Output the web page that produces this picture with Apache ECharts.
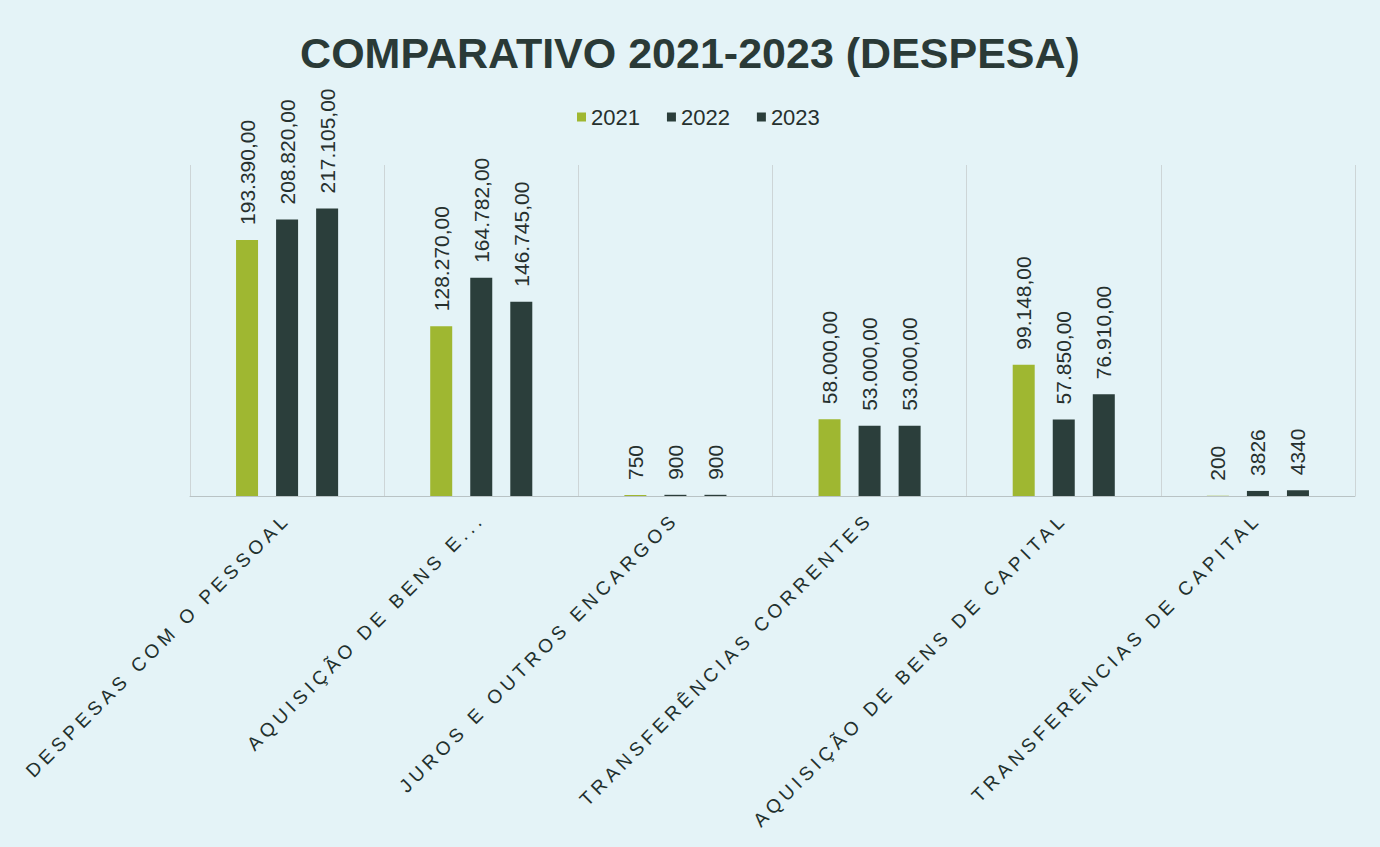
<!DOCTYPE html>
<html>
<head>
<meta charset="utf-8">
<script src="https://cdn.jsdelivr.net/npm/echarts@6/dist/echarts.min.js"></script>
<style>
  html, body { margin: 0; padding: 0; background: #e4f3f7; }
  #chart { width: 1380px; height: 847px; }
  text[style*="xspaced"] { letter-spacing: 4.5px; }
</style>
</head>
<body>
<div id="chart"></div>
<script>
const titleText = 'COMPARATIVO 2021-2023 (DESPESA)';
const categories = [
  'DESPESAS COM O PESSOAL',
  'AQUISIÇÃO DE BENS E...',
  'JUROS E OUTROS ENCARGOS',
  'TRANSFERÊNCIAS CORRENTES',
  'AQUISIÇÃO DE BENS DE CAPITAL',
  'TRANSFERÊNCIAS DE CAPITAL'
];
const seriesNames = ['2021', '2022', '2023'];
const values2021 = [193390, 128270, 750, 58000, 99148, 200];
const values2022 = [208820, 164782, 900, 53000, 57850, 3826];
const values2023 = [217105, 146745, 900, 53000, 76910, 4340];
const seriesColors = ['#9fb731', '#2b3e3b', '#2b3e3b'];

function fmtValue(v) {
  if (v < 5000) return String(v);
  const s = String(Math.round(v));
  let out = '';
  for (let i = 0; i < s.length; i++) {
    if (i > 0 && (s.length - i) % 3 === 0) out += '.';
    out += s[i];
  }
  return out + ',00';
}

const chart = echarts.init(document.getElementById('chart'), null, { renderer: 'svg', width: 1380, height: 847 });
const allValues = [values2021, values2022, values2023];

const option = {
  backgroundColor: '#e4f3f7',
  animation: false,
  title: {
    text: titleText,
    left: 'center',
    top: 26,
    textStyle: {
      fontFamily: 'Liberation Sans, Arial, sans-serif',
      fontSize: 43,
      fontWeight: 'bold',
      color: '#2a3a37'
    }
  },
  legend: {
    top: 101,
    left: 572,
    icon: 'rect',
    itemWidth: 9,
    itemHeight: 9,
    itemGap: 27,
    data: seriesNames,
    textStyle: {
      fontFamily: 'Liberation Sans, Arial, sans-serif',
      fontSize: 22,
      color: '#26302e'
    }
  },
  grid: { left: 190, right: 25, top: 165, bottom: 351, containLabel: false },
  xAxis: {
    type: 'category',
    data: categories,
    axisLine: { show: true, lineStyle: { color: '#b9c3c5', width: 1 } },
    axisTick: { show: false },
    splitLine: { show: true, lineStyle: { color: '#cdd5d7', width: 1 } },
    axisLabel: {
      interval: 0,
      rotate: 45,
      margin: 20,
      fontFamily: 'Liberation Sans, Arial, xspaced',
      fontSize: 19,
      color: '#22302d'
    }
  },
  yAxis: {
    type: 'value',
    min: 0,
    max: 250000,
    show: false,
    splitLine: { show: false }
  },
  series: seriesNames.map((name, i) => ({
    name: name,
    type: 'bar',
    data: allValues[i],
    barWidth: 22,
    barGap: '82%',
    itemStyle: { color: seriesColors[i] },
    label: {
      show: true,
      position: 'top',
      rotate: 90,
      align: 'left',
      verticalAlign: 'middle',
      distance: 15,
      fontFamily: 'Liberation Sans, Arial, sans-serif',
      fontSize: 21,
      color: '#26302e',
      formatter: (p) => fmtValue(p.value)
    }
  }))
};
chart.setOption(option);
</script>
</body>
</html>
